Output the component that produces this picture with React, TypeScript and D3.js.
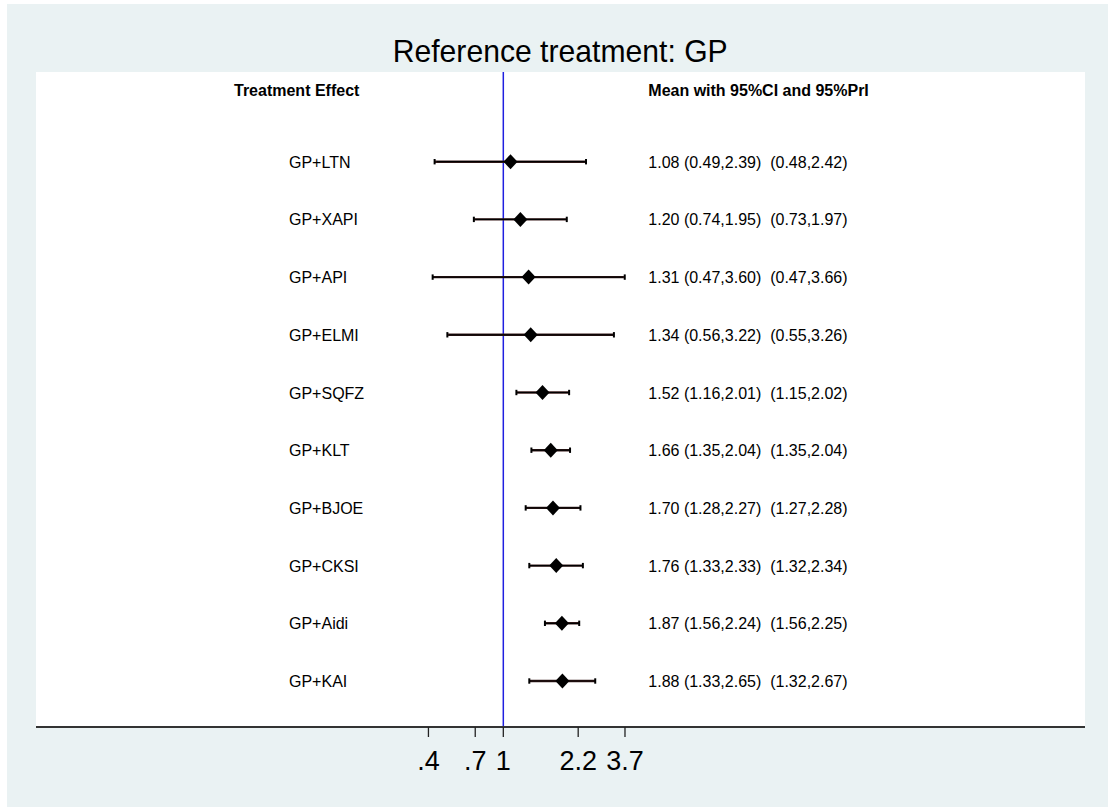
import React from "react";
import * as d3 from "d3";

const treatments = ["GP+LTN", "GP+XAPI", "GP+API", "GP+ELMI", "GP+SQFZ", "GP+KLT", "GP+BJOE", "GP+CKSI", "GP+Aidi", "GP+KAI"];
const means = [1.08, 1.2, 1.31, 1.34, 1.52, 1.66, 1.7, 1.76, 1.87, 1.88];
const ciLow = [0.49, 0.74, 0.47, 0.56, 1.16, 1.35, 1.28, 1.33, 1.56, 1.33];
const ciHigh = [2.39, 1.95, 3.6, 3.22, 2.01, 2.04, 2.27, 2.33, 2.24, 2.65];
const priLow = [0.48, 0.73, 0.47, 0.55, 1.15, 1.35, 1.27, 1.32, 1.56, 1.32];
const priHigh = [2.42, 1.97, 3.66, 3.26, 2.02, 2.04, 2.28, 2.34, 2.25, 2.67];
const tickLogs = [-0.8, -0.3, 0, 0.8, 1.3];
const tickLabels = [".4", ".7", "1", "2.2", "3.7"];

const W = 1108;
const H = 807;
const FONT = "'Liberation Sans', Arial, sans-serif";

export default function App() {
  const plotL = 36, plotR = 1085, plotT = 72, axisY = 727;
  const x = d3
    .scaleLog()
    .base(Math.E)
    .domain([Math.exp(-4.993), Math.exp(6.215)])
    .range([plotL, plotR]);
  const y = d3.scaleLinear().domain([0, treatments.length - 1]).range([161.7, 681]);
  const f = (v: number) => v.toFixed(2);
  const dh = 7, dv = 7.5, cap = 2.7;

  return (
    <div style={{ position: "absolute", left: 0, top: 0 }}>
      <svg width={W} height={H} style={{ display: "block" }}>
        <rect x={0} y={0} width={W} height={H} fill="#ffffff" />
        <rect x={7} y={4} width={W - 7} height={H - 4} fill="#EAF2F3" />
        <rect x={plotL} y={plotT} width={plotR - plotL} height={axisY - plotT} fill="#ffffff" />
        <text x={392.7} y={62} textLength={335} lengthAdjust="spacingAndGlyphs" fontFamily={FONT} fontSize={32} fill="#000">
          Reference treatment: GP
        </text>
        <text x={234} y={95.5} fontFamily={FONT} fontSize={16} fontWeight="bold" fill="#000">
          Treatment Effect
        </text>
        <text x={648.3} y={95.5} fontFamily={FONT} fontSize={16} fontWeight="bold" fill="#000">
          Mean with 95%CI and 95%PrI
        </text>
        <line x1={x(1)} x2={x(1)} y1={plotT} y2={axisY} stroke="#1f1fe0" strokeWidth={1.5} />
        {treatments.map((t, i) => {
          const yy = y(i);
          return (
            <g key={t}>
              <text x={289} y={yy + 6} fontFamily={FONT} fontSize={16} fill="#000">
                {t}
              </text>
              <line x1={x(priLow[i])} x2={x(priHigh[i])} y1={yy} y2={yy} stroke="#3a1c1c" strokeWidth={2.4} />
              <line x1={x(ciLow[i])} x2={x(ciHigh[i])} y1={yy} y2={yy} stroke="#000" strokeWidth={1.2} />
              <line x1={x(priLow[i])} x2={x(priLow[i])} y1={yy - cap} y2={yy + cap} stroke="#000" strokeWidth={2} />
              <line x1={x(priHigh[i])} x2={x(priHigh[i])} y1={yy - cap} y2={yy + cap} stroke="#000" strokeWidth={2} />
              <path
                d={`M${x(means[i]) - dh},${yy} L${x(means[i])},${yy - dv} L${x(means[i]) + dh},${yy} L${x(means[i])},${yy + dv} Z`}
                fill="#000"
              />
              <text x={648.3} y={yy + 6} fontFamily={FONT} fontSize={16} fill="#000" style={{ whiteSpace: "pre" }}>
                {`${f(means[i])} (${f(ciLow[i])},${f(ciHigh[i])})  (${f(priLow[i])},${f(priHigh[i])})`}
              </text>
            </g>
          );
        })}
        <line x1={plotL} x2={plotR} y1={axisY} y2={axisY} stroke="#333" strokeWidth={2} />
        {tickLogs.map((lv, i) => {
          const tx = x(Math.exp(lv));
          return (
            <g key={i}>
              <line x1={tx} x2={tx} y1={axisY} y2={axisY + 10} stroke="#222" strokeWidth={1.3} />
              <text x={tx} y={770} textAnchor="middle" fontFamily={FONT} fontSize={27} fill="#000">
                {tickLabels[i]}
              </text>
            </g>
          );
        })}
      </svg>
    </div>
  );
}
